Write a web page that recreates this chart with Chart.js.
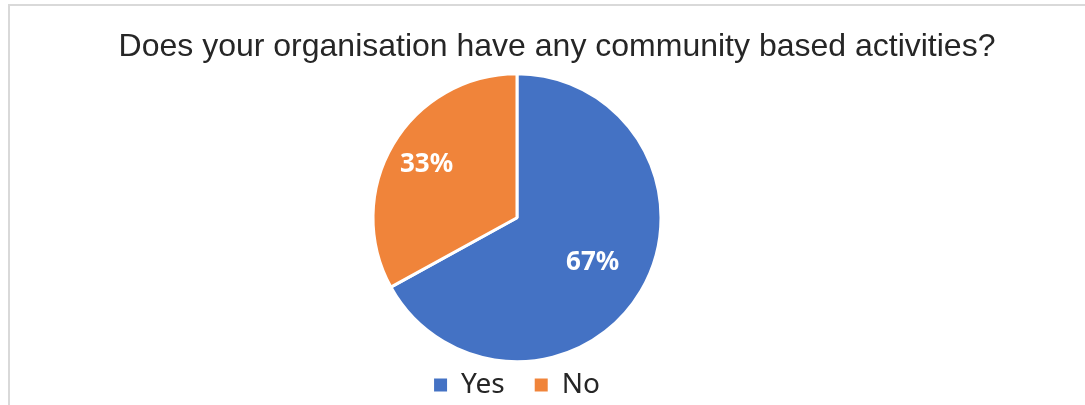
<!DOCTYPE html>
<html>
<head>
<meta charset="utf-8">
<script src="https://cdn.jsdelivr.net/npm/chart.js@4"></script>
<style>
  body { margin: 0; background: #fff; }
</style>
</head>
<body>
<canvas id="chart-js" width="1085" height="405"></canvas>
<script>
const titleText = "Does your organisation have any community based activities?";
const answers = ["Yes", "No"];
const shares = [67, 33];

const sliceColors = ["#4472C4", "#F0843A"];
// how far out (share of radius) each percentage label sits
const labelDepth = [0.61, 0.73];

const frame = {
  id: "frame",
  beforeDraw: (chart) => {
    const ctx = chart.ctx;
    ctx.save();
    ctx.fillStyle = "#fff";
    ctx.fillRect(0, 0, chart.width, chart.height);
    ctx.strokeStyle = "#d9d9d9";
    ctx.lineWidth = 2;
    ctx.beginPath();
    ctx.moveTo(9, chart.height);
    ctx.lineTo(9, 5);
    ctx.lineTo(chart.width, 5);
    ctx.stroke();
    ctx.restore();
  },
};

// empty box on the right so the pie sits left of the title's centre
const spacer = {
  id: "spacer",
  beforeInit: (chart) => {
    Chart.layouts.addBox(chart, {
      position: "right",
      weight: 0,
      fullSize: false,
      options: {},
      isHorizontal() {
        return false;
      },
      update(maxWidth, maxHeight) {
        this.width = 80;
        this.height = maxHeight;
      },
      draw() {},
    });
  },
};

const sliceLabels = {
  id: "sliceLabels",
  afterDatasetsDraw: (chart) => {
    const ctx = chart.ctx;
    const meta = chart.getDatasetMeta(0);
    const total = shares.reduce((a, b) => a + b, 0);
    ctx.save();
    ctx.fillStyle = "#fff";
    ctx.font = "bold 26px 'Noto Sans'";
    ctx.textAlign = "center";
    ctx.textBaseline = "middle";
    meta.data.forEach((arc, i) => {
      const p = arc.getProps(["x", "y", "startAngle", "endAngle", "outerRadius"], true);
      const mid = (p.startAngle + p.endAngle) / 2;
      const r = p.outerRadius * labelDepth[i];
      const text = Math.round((shares[i] / total) * 100) + "%";
      ctx.fillText(text, p.x + Math.cos(mid) * r, p.y + Math.sin(mid) * r);
    });
    ctx.restore();
  },
};

const graphic = document.querySelector("#chart-js");
new Chart(graphic, {
  type: "pie",
  data: {
    labels: answers,
    datasets: [
      {
        data: shares,
        backgroundColor: sliceColors,
        borderColor: "#fff",
        borderWidth: 3,
        radius: 144,
      },
    ],
  },
  options: {
    responsive: false,
    animation: false,
    layout: { padding: { left: 29, right: 0, top: 0, bottom: -4 } },
    plugins: {
      title: {
        display: true,
        text: titleText,
        color: "#262626",
        font: { family: "'Liberation Sans', Arial", size: 32, weight: "normal" },
        padding: { top: 28, bottom: 28 },
      },
      legend: {
        position: "bottom",
        fullSize: false,
        labels: {
          color: "#262626",
          font: { family: "'Noto Sans'", size: 28 },
          boxWidth: 13,
          boxHeight: 13,
          padding: 30,
          generateLabels: (chart) =>
            Chart.overrides.pie.plugins.legend.labels
              .generateLabels(chart)
              .map((item) => ({ ...item, lineWidth: 0, strokeStyle: item.fillStyle })),
        },
      },
      tooltip: { enabled: false },
    },
  },
  plugins: [frame, spacer, sliceLabels],
});
</script>
</body>
</html>
